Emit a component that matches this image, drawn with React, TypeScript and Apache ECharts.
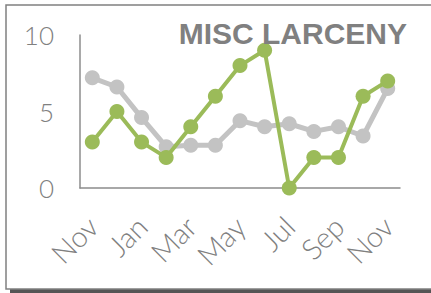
import React, { useEffect, useRef } from "react";
import * as echarts from "echarts";

const months = ["Nov", "Dec", "Jan", "Feb", "Mar", "Apr", "May", "Jun", "Jul", "Aug", "Sep", "Oct", "Nov"];
const prevYear = [7.2, 6.6, 4.6, 2.7, 2.8, 2.8, 4.4, 4.0, 4.2, 3.7, 4.0, 3.4, 6.5];
const currYear = [3, 5, 3, 2, 4, 6, 8, 9, 0, 2, 2, 6, 7];
const titleText = "MISC LARCENY";

export default function App() {
  const ref = useRef<HTMLDivElement>(null);
  useEffect(() => {
    if (!ref.current) return;
    const chart = echarts.init(ref.current, null, { renderer: "svg" });
    const gray = "#808080";
    chart.setOption({
      animation: false,
      backgroundColor: "#ffffff",
      title: {
        text: titleText,
        right: 19,
        top: 13,
        textStyle: { fontFamily: "Liberation Sans", fontWeight: "bold", fontSize: 30, color: gray },
      },
      graphic: [
        {
          type: "rect",
          shape: { x: 10, y: 289, width: 430, height: 4 },
          style: { fill: "#555555" },
          z: 0,
        },
        {
          type: "rect",
          shape: { x: 6, y: 5, width: 440, height: 284 },
          style: { fill: "#ffffff", stroke: "#808080", lineWidth: 1.5 },
          z: 0,
        },
      ],
      grid: { left: 80, right: 31, top: 35, bottom: 105 },
      xAxis: {
        type: "category",
        data: months,
        boundaryGap: true,
        axisLine: { show: true, lineStyle: { color: "#8c8c8c", width: 1.5 } },
        axisTick: { show: false },
        axisLabel: {
          interval: 1,
          rotate: 45,
          margin: 33,
          fontSize: 29,
          color: gray,
          fontFamily: "Lato",
          fontWeight: 300,
        },
        splitLine: { show: false },
      },
      yAxis: {
        type: "value",
        min: 0,
        max: 10,
        interval: 5,
        axisLine: { show: true, lineStyle: { color: "#8c8c8c", width: 1.5 } },
        axisTick: { show: false },
        splitLine: { show: false },
        axisLabel: {
          margin: 26,
          fontSize: 26,
          color: gray,
          fontFamily: "Lato",
          fontWeight: 300,
        },
      },
      series: [
        {
          type: "line",
          data: prevYear,
          symbol: "circle",
          symbolSize: 15,
          lineStyle: { color: "#c3c3c3", width: 5 },
          itemStyle: { color: "#c3c3c3" },
          z: 2,
        },
        {
          type: "line",
          data: currYear,
          symbol: "circle",
          symbolSize: 15,
          lineStyle: { color: "#9bbb59", width: 4 },
          itemStyle: { color: "#9bbb59" },
          z: 3,
        },
      ],
    });
    return () => chart.dispose();
  }, []);
  return <div ref={ref} style={{ position: "fixed", left: 0, top: 0, width: 431, height: 293 }} />;
}
